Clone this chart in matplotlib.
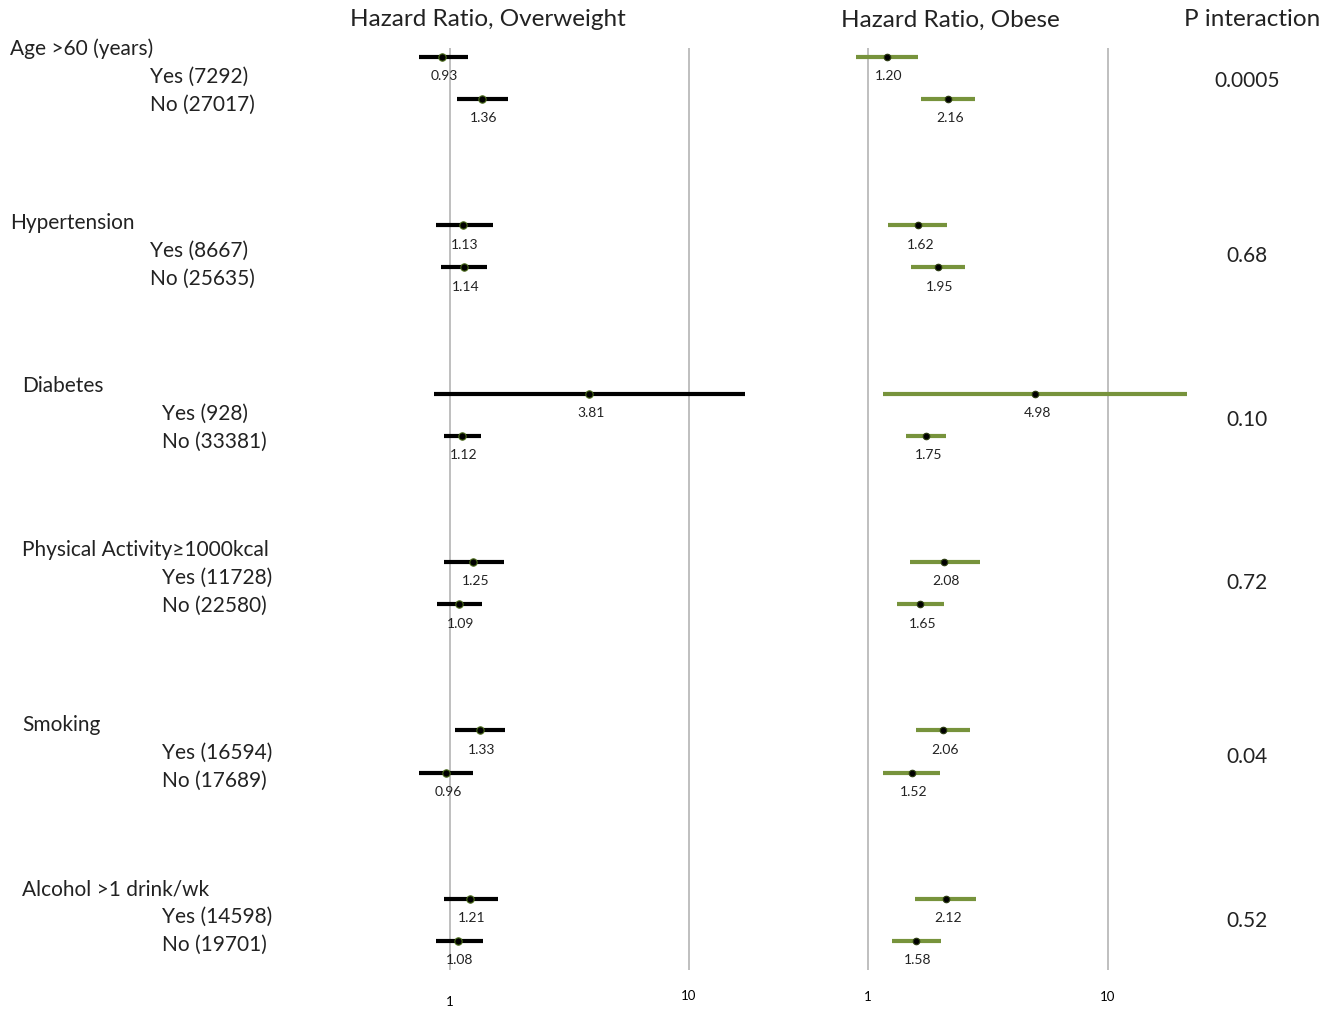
import numpy as np
import matplotlib
matplotlib.use("Agg")
import matplotlib.pyplot as plt
from matplotlib.transforms import blended_transform_factory

plt.rcParams['font.family'] = ['Lato', 'DejaVu Sans']

# Subgroups
groups = ["Age >60 (years)", "Hypertension", "Diabetes",
          "Physical Activity\u22651000kcal", "Smoking", "Alcohol >1 drink/wk"]
sub_labels = [["Yes (7292)", "No (27017)"],
              ["Yes (8667)", "No (25635)"],
              ["Yes (928)", "No (33381)"],
              ["Yes (11728)", "No (22580)"],
              ["Yes (16594)", "No (17689)"],
              ["Yes (14598)", "No (19701)"]]
p_interaction = ["0.0005", "0.68", "0.10", "0.72", "0.04", "0.52"]

# Hazard ratios (Yes, No per subgroup) with 95% CI
hr_over = [0.93, 1.36, 1.13, 1.14, 3.81, 1.12, 1.25, 1.09, 1.33, 0.96, 1.21, 1.08]
lo_over = [0.74, 1.07, 0.87, 0.92, 0.86, 0.94, 0.94, 0.88, 1.05, 0.74, 0.94, 0.87]
hi_over = [1.19, 1.75, 1.51, 1.43, 17.1, 1.35, 1.68, 1.36, 1.70, 1.25, 1.59, 1.37]

hr_obese = [1.20, 2.16, 1.62, 1.95, 4.98, 1.75, 2.08, 1.65, 2.06, 1.52, 2.12, 1.58]
lo_obese = [0.89, 1.66, 1.21, 1.51, 1.15, 1.44, 1.50, 1.32, 1.58, 1.15, 1.57, 1.26]
hi_obese = [1.62, 2.79, 2.13, 2.54, 21.3, 2.11, 2.93, 2.07, 2.66, 2.00, 2.82, 2.01]

W, H = 1342, 1011
fig = plt.figure(figsize=(W / 100, H / 100), dpi=100)


def px_axes(x0, x1, y0, y1):
    return fig.add_axes([x0 / W, 1 - y1 / H, (x1 - x0) / W, (y1 - y0) / H])


# row positions: two rows per subgroup, subgroups four units apart
ypos = np.array([4 * g + s for g in range(len(groups)) for s in range(2)], dtype=float)
YLIM = (21.69, -0.21)

OLIVE = "#77933C"
GRID = "#BFBFBF"
TEXT = "#222222"


def forest(ax, hr, lo, hi, color, dot_size, dot_edge, xlim):
    ax.set_xscale("log")
    ax.set_xlim(*xlim)
    ax.set_ylim(*YLIM)
    for v in (1, 10):
        ax.axvline(v, color=GRID, lw=1.4, zorder=0)
    ax.hlines(ypos, lo, hi, color=color, lw=3.0, zorder=2)
    ax.scatter(hr, ypos, s=dot_size, color="black", edgecolors=dot_edge,
               linewidths=0.8, zorder=3)
    for x, y in zip(hr, ypos):
        ax.annotate(f"{x:.2f}", (x * 1.02, y), xytext=(0, -14),
                    textcoords="offset points", ha="center", va="center",
                    fontsize=10, color=TEXT)
    ax.axis("off")
    return blended_transform_factory(ax.transData, fig.transFigure)


ax1 = px_axes(400, 760, 48, 970)
tr1 = forest(ax1, hr_over, lo_over, hi_over, "black", 28, "#4a6a1a",
             (10 ** (-50 / 239), 10 ** (310 / 239)))
ax2 = px_axes(840, 1200, 48, 970)
tr2 = forest(ax2, hr_obese, lo_obese, hi_obese, OLIVE, 22, "#2a3a10",
             (10 ** (-28 / 240), 10 ** (332 / 240)))

# axis tick labels
ax1.text(1, 1 - 1002 / H, "1", transform=tr1, ha="center", va="center", fontsize=9.5)
ax1.text(10, 1 - 996 / H, "10", transform=tr1, ha="center", va="center", fontsize=9.5)
ax2.text(1, 1 - 997 / H, "1", transform=tr2, ha="center", va="center", fontsize=9.5)
ax2.text(10, 1 - 997 / H, "10", transform=tr2, ha="center", va="center", fontsize=9.5)

# column headers
fig.text(488 / W, 1 - 20 / H, "Hazard Ratio, Overweight", ha="center", va="center",
         fontsize=17.5, color=TEXT)
fig.text(950 / W, 1 - 20 / H, "Hazard Ratio, Obese", ha="center", va="center",
         fontsize=17.5, color=TEXT)
fig.text(1252 / W, 1 - 20 / H, "P interaction", ha="center", va="center",
         fontsize=17.5, color=TEXT)

# subgroup labels
head_y = [49, 223, 386, 550, 725, 889]
head_x = [10, 10, 22, 22, 22, 22]
sub_x = [150, 150, 162, 162, 162, 162]
p_y = [81, 256, 420, 583, 757, 921]
for g, name in enumerate(groups):
    fig.text(head_x[g] / W, 1 - head_y[g] / H, name, ha="left", va="center",
             fontsize=15, color=TEXT)
    for s in range(2):
        fig.text(sub_x[g] / W, 1 - (head_y[g] + 28 * (s + 1)) / H, sub_labels[g][s],
                 ha="left", va="center", fontsize=15, color=TEXT)
    fig.text(1247 / W, 1 - p_y[g] / H, p_interaction[g], ha="center", va="center",
             fontsize=15, color=TEXT)

fig.savefig("out.png", dpi=100, facecolor="white")
